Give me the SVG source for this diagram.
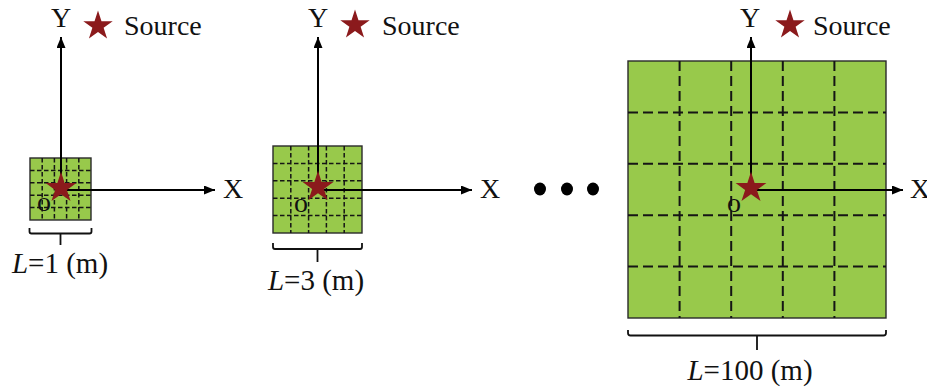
<svg xmlns="http://www.w3.org/2000/svg" width="927" height="388" viewBox="0 0 927 388">
<style>
text{font-family:"Liberation Serif","Times New Roman",serif;fill:#111;}
.lbl{font-size:28px;}
.len{font-size:29px;text-anchor:middle;}
.o{font-size:28px;}
.sq{fill:#98c94b;stroke:#2a2a2a;stroke-width:1.4;}
.g1{stroke:#151515;stroke-width:1.5;stroke-dasharray:4.5 2.5;fill:none;}
.g3{stroke:#151515;stroke-width:2;stroke-dasharray:10 5;fill:none;}
.ax{stroke:#000;stroke-width:2;fill:none;marker-end:url(#arr);}
.br{stroke:#111;stroke-width:1.8;fill:none;}
.star{fill:#8b1a1c;}
.dot{fill:#000;}
</style>
<defs>
<marker id="arr" markerUnits="userSpaceOnUse" markerWidth="12" markerHeight="10" refX="11" refY="4.5" orient="auto">
<path d="M0,0 L11,4.5 L0,9 Z" fill="#000"/>
</marker>
<path id="st" d="M0,-15 L3.37,-4.64 L14.27,-4.64 L5.45,1.77 L8.82,12.14 L0,5.73 L-8.82,12.14 L-5.45,1.77 L-14.27,-4.64 L-3.37,-4.64 Z"/>
</defs>

<g id="panel-1">
<rect class="sq" x="30" y="158" width="61" height="62"/>
<path class="g1" d="M42.2,158V220M54.4,158V220M66.6,158V220M78.8,158V220M30,170.4H91M30,182.8H91M30,195.2H91M30,207.6H91"/>
<path class="br" d="M29.5,228V231.5Q29.5,233.5 31.5,233.5H89.5Q91.5,233.5 91.5,231.5V228M60.5,233.5V245"/>
<text class="len" x="60" y="273"><tspan font-style="italic">L</tspan>=1 (m)</text>
</g>

<g id="panel-2">
<rect class="sq" x="273" y="146" width="89" height="87"/>
<path class="g1" d="M290.8,146V233M308.6,146V233M326.4,146V233M344.2,146V233M273,163.4H362M273,180.8H362M273,198.2H362M273,215.6H362"/>
<path class="br" d="M273,243V247Q273,249 275,249H360Q362,249 362,247V243M317.5,249V262"/>
<text class="len" x="316" y="290"><tspan font-style="italic">L</tspan>=3 (m)</text>
</g>

<g id="ellipsis">
<ellipse class="dot" cx="540" cy="189" rx="6" ry="6.5"/>
<ellipse class="dot" cx="567" cy="189" rx="6" ry="6.5"/>
<ellipse class="dot" cx="593" cy="189" rx="6" ry="6.5"/>
</g>

<g id="panel-3">
<rect class="sq" x="628" y="61" width="258" height="257"/>
<path class="g3" d="M679.6,61V318M731.2,61V318M782.8,61V318M834.4,61V318M628,112.4H886M628,163.8H886M628,215.2H886M628,266.6H886"/>
<path class="br" d="M628,330V333Q628,335.5 630.5,335.5H883.5Q886,335.5 886,333V330M757,335.5V350"/>
<text class="len" x="750" y="380"><tspan font-style="italic">L</tspan>=100 (m)</text>
</g>

<g id="connectors">
<path class="ax" d="M61,188V37"/>
<path class="ax" d="M61,190H215"/>
<path class="ax" d="M318,188V37"/>
<path class="ax" d="M318,190H472"/>
<path class="ax" d="M751,188V37"/>
<path class="ax" d="M751,190H903"/>
</g>

<g id="axes-1">
<text class="lbl" x="61" y="27" text-anchor="middle">Y</text>
<text class="lbl" x="223" y="198">X</text>
<text class="o" x="37" y="211">o</text>
<use href="#st" class="star" transform="translate(61,188) scale(1.08)"/>
</g>
<g id="source-1">
<use href="#st" class="star" transform="translate(98,26) scale(1.03)"/>
<text class="lbl" x="124" y="35">Source</text>
</g>

<g id="axes-2">
<text class="lbl" x="318" y="27" text-anchor="middle">Y</text>
<text class="lbl" x="480" y="198">X</text>
<text class="o" x="294" y="212">o</text>
<use href="#st" class="star" transform="translate(318,187) scale(1.08)"/>
</g>
<g id="source-2">
<use href="#st" class="star" transform="translate(355,25) scale(1.03)"/>
<text class="lbl" x="382" y="35">Source</text>
</g>

<g id="axes-3">
<text class="lbl" x="750" y="27" text-anchor="middle">Y</text>
<text class="lbl" x="910" y="198">X</text>
<text class="o" x="727" y="212">o</text>
<use href="#st" class="star" transform="translate(751,188) scale(1.08)"/>
</g>
<g id="source-3">
<use href="#st" class="star" transform="translate(790,25) scale(1.03)"/>
<text class="lbl" x="813" y="35">Source</text>
</g>
</svg>
